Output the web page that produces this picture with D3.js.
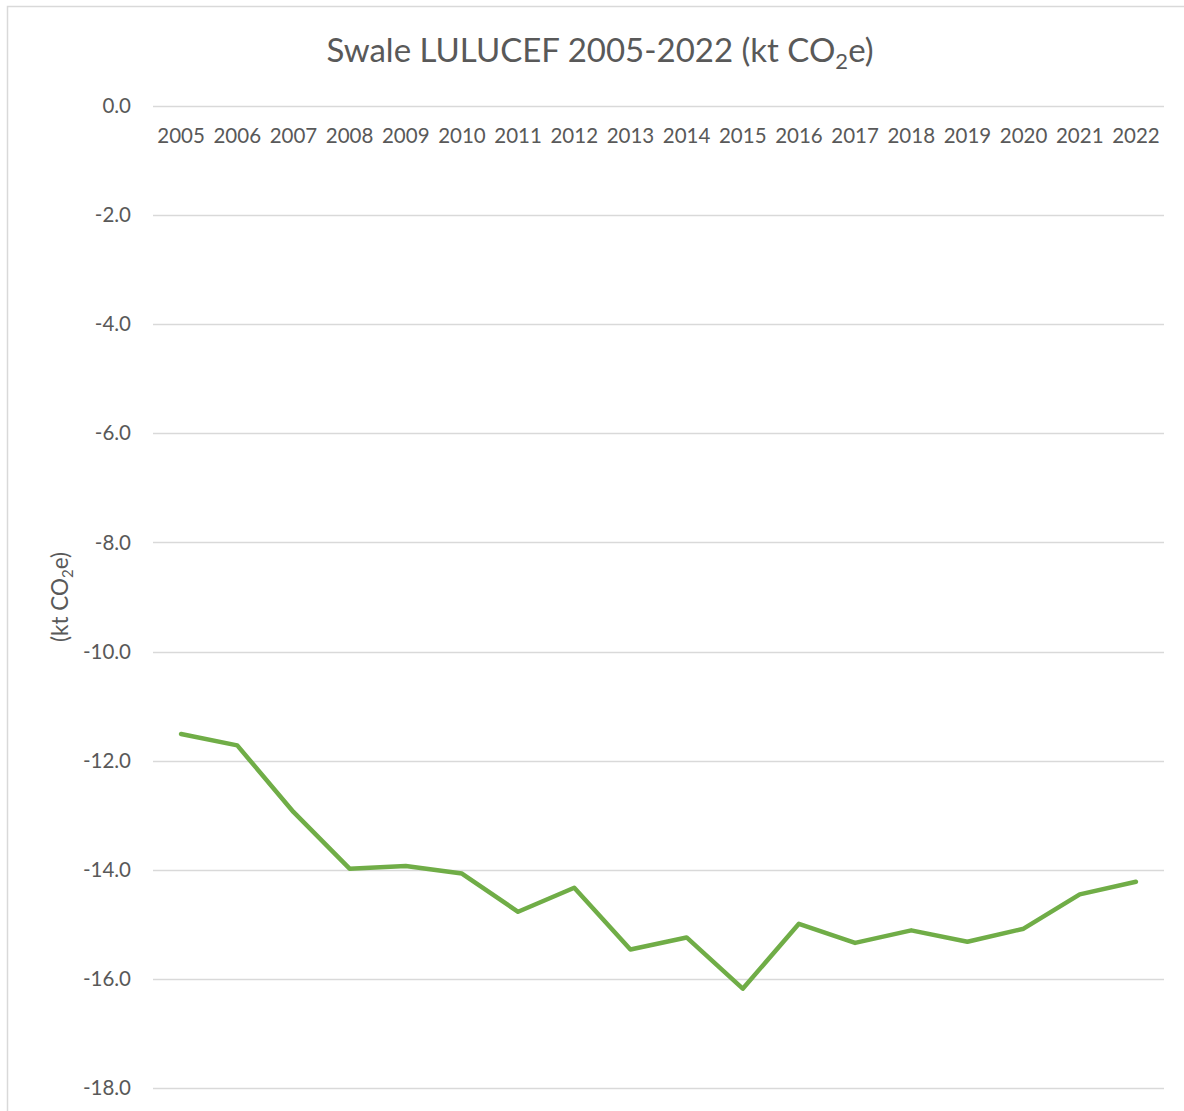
<!DOCTYPE html>
<html lang="en">
<head>
<meta charset="utf-8">
<title>Swale LULUCEF 2005-2022</title>
<script src="https://d3js.org/d3.v7.min.js"></script>
<style>
  body { margin: 0; background: #fff; }
  text { font-family: Lato, "Open Sans", sans-serif; fill: #595959; }
</style>
</head>
<body>
<div id="chart"></div>
<script>
// data
var years = ["2005", "2006", "2007", "2008", "2009", "2010", "2011", "2012", "2013",
             "2014", "2015", "2016", "2017", "2018", "2019", "2020", "2021", "2022"];
var emissions = [-11.51, -11.72, -12.94, -13.98, -13.93, -14.07, -14.77, -14.33, -15.46,
                 -15.24, -16.18, -14.99, -15.34, -15.11, -15.32, -15.08, -14.45, -14.22];
var yTicks = [0, -2, -4, -6, -8, -10, -12, -14, -16, -18];

var W = 1184, H = 1111;
var margin = {left: 153, right: 20, top: 106, bottom: 23};

var svg = d3.select("#chart").append("svg")
    .attr("width", W)
    .attr("height", H);

// chart border (runs off the right and bottom of the picture)
svg.append("rect")
    .attr("x", 7.5).attr("y", 6.5)
    .attr("width", W + 20).attr("height", H + 20)
    .attr("fill", "none")
    .attr("stroke", "#d9d9d9")
    .attr("stroke-width", 1.5);

var x = d3.scaleBand()
    .domain(years)
    .range([margin.left, W - margin.right]);

var y = d3.scaleLinear()
    .domain([0, -18])
    .range([margin.top, H - margin.bottom]);

// gridlines
svg.append("g")
    .selectAll("line")
    .data(yTicks)
    .enter()
    .append("line")
    .attr("x1", margin.left)
    .attr("x2", W - margin.right)
    .attr("y1", d => Math.round(y(d)) + 0.5)
    .attr("y2", d => Math.round(y(d)) + 0.5)
    .attr("stroke", "#d9d9d9")
    .attr("stroke-width", 1.3);

// y axis labels
var yAxis = d3.axisLeft(y)
    .tickValues(yTicks)
    .tickSize(0)
    .tickPadding(22);

svg.append("g")
    .attr("transform", "translate(" + margin.left + ",0)")
    .call(yAxis)
    .call(g => g.select(".domain").remove())
    .call(g => g.selectAll("text")
        .attr("font-size", 20.5)
        .attr("fill", "#595959")
        .style("font-family", "Lato, 'Open Sans', sans-serif")
        .text(d => d3.format(".1f")(d).replace("−", "-")));

// x axis labels sit just under the zero line
var xAxis = d3.axisBottom(x).tickSize(0).tickPadding(22);

svg.append("g")
    .attr("transform", "translate(0," + y(0) + ")")
    .call(xAxis)
    .call(g => g.select(".domain").remove())
    .call(g => g.selectAll("text")
        .attr("font-size", 20.5)
        .attr("fill", "#595959")
        .style("font-family", "Lato, 'Open Sans', sans-serif"));

// the line
var line = d3.line()
    .x((d, i) => x(years[i]) + x.bandwidth() / 2)
    .y(d => y(d));

svg.append("path")
    .datum(emissions)
    .attr("d", line)
    .attr("fill", "none")
    .attr("stroke", "#70ad47")
    .attr("stroke-width", 4.5)
    .attr("stroke-linejoin", "round")
    .attr("stroke-linecap", "round");

// title
var title = svg.append("text")
    .attr("x", 600)
    .attr("y", 62)
    .attr("text-anchor", "middle")
    .attr("font-size", 33);
title.append("tspan").text("Swale LULUCEF 2005-2022 (kt CO");
title.append("tspan").attr("font-size", 22).attr("dy", 7).text("2");
title.append("tspan").attr("dy", -7).text("e)");

// y axis title
var yTitle = svg.append("text")
    .attr("transform", "translate(68," + y(-9) + ") rotate(-90)")
    .attr("text-anchor", "middle")
    .attr("font-size", 22.5);
yTitle.append("tspan").text("(kt CO");
yTitle.append("tspan").attr("font-size", 15).attr("dy", 5).text("2");
yTitle.append("tspan").attr("dy", -5).text("e)");
</script>
</body>
</html>
